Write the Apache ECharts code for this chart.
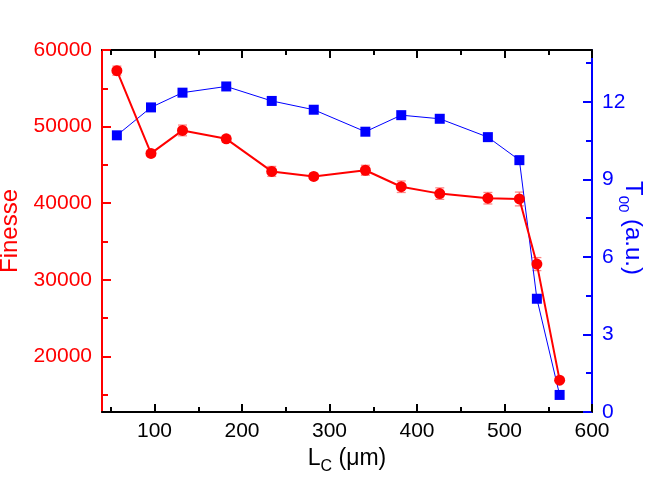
<!DOCTYPE html>
<html>
<head>
<meta charset="utf-8">
<script src="https://cdn.jsdelivr.net/npm/echarts@6/dist/echarts.min.js"></script>
<style>
html,body{margin:0;padding:0;background:#fff;}
#chart{width:650px;height:479px;}
</style>
</head>
<body>
<div id="chart"></div>
<script>
// cavity length (um)
const cavityLength = [57, 96, 132, 182, 234, 282, 341, 382, 426, 481, 517, 537, 563];
// finesse + error
const finesse = [57300, 46500, 49500, 48400, 44150, 43500, 44300, 42150, 41250, 40650, 40550, 32050, 16900];
const finesseErr = [600, 400, 700, 450, 650, 400, 650, 750, 750, 750, 900, 850, 300];
// T00 transmission (a.u.)
const transmission = [10.70, 11.78, 12.35, 12.59, 12.03, 11.69, 10.84, 11.48, 11.34, 10.63, 9.74, 4.38, 0.66];

const xMajor = [100, 200, 300, 400, 500, 600];
const xMinor = [50, 150, 250, 350, 450, 550];
const leftMajor = [20000, 30000, 40000, 50000, 60000];
const leftMinor = [15000, 25000, 35000, 45000, 55000];
const rightMajor = [0, 3, 6, 9, 12];
const rightMinor = [1.5, 4.5, 7.5, 10.5, 13.5];

const FONT = 'Liberation Sans';
const RED = '#ff0000';
const BLUE = '#0000ff';

let redData = [], blueData = [], errData = [];
for (var i = 0; i < cavityLength.length; i++) {
  redData.push([cavityLength[i], finesse[i]]);
  blueData.push([cavityLength[i], transmission[i]]);
  errData.push([cavityLength[i], finesse[i] - finesseErr[i], finesse[i] + finesseErr[i]]);
}

function plain(v) { return String(v); }

function tickAxis(pos, min, max, ticks, len, color, showLine) {
  return {
    type: 'value', position: pos, min: min, max: max,
    splitLine: {show: false},
    axisLine: {show: showLine, lineStyle: {color: color, width: 2}},
    axisTick: {show: true, inside: true, length: len, customValues: ticks,
               lineStyle: {color: color, width: 2}},
    axisLabel: {show: false}
  };
}

let xBottom = tickAxis('bottom', 40, 600, xMajor, 8, '#000', true);
xBottom.axisLabel = {show: true, customValues: xMajor, formatter: plain,
                     color: '#000', fontSize: 21, fontFamily: FONT, margin: 9};
xBottom.name = '{a|L}{b|C}{a| (μm)}';
xBottom.nameLocation = 'middle';
xBottom.nameGap = 33;
xBottom.nameTextStyle = {
  color: '#000', fontFamily: FONT,
  rich: {
    a: {fontSize: 23, fontFamily: FONT, color: '#000', verticalAlign: 'bottom', padding: [0, 0, 5, 0]},
    b: {fontSize: 16, fontFamily: FONT, color: '#000', verticalAlign: 'bottom'}
  }
};

let yLeft = tickAxis('left', 12740, 60000, leftMajor, 9, RED, true);
yLeft.axisLabel = {show: true, customValues: leftMajor, formatter: plain,
                   color: RED, fontSize: 21, fontFamily: FONT, margin: 10};
yLeft.name = 'Finesse';
yLeft.nameLocation = 'middle';
yLeft.nameGap = 70;
yLeft.nameTextStyle = {color: RED, fontSize: 24, fontFamily: FONT};

let yRight = tickAxis('right', 0, 14, rightMajor, 9, BLUE, true);
yRight.axisLabel = {show: true, customValues: rightMajor, formatter: plain,
                    color: BLUE, fontSize: 21, fontFamily: FONT, margin: 10};

let chart = echarts.init(document.getElementById('chart'));
let option = {
  backgroundColor: '#fff',
  animation: false,
  grid: {left: 102, right: 58, top: 50, bottom: 67, outerBoundsMode: 'none'},
  xAxis: [
    xBottom,
    tickAxis('bottom', 40, 600, xMinor, 5, '#000', false),
    tickAxis('top', 40, 600, xMajor, 8, '#000', true),
    tickAxis('top', 40, 600, xMinor, 5, '#000', false)
  ],
  yAxis: [
    yLeft,
    tickAxis('left', 12740, 60000, leftMinor, 6, RED, false),
    yRight,
    tickAxis('right', 0, 14, rightMinor, 6, BLUE, false)
  ],
  graphic: [{
    type: 'text', x: 630, y: 228, rotation: -Math.PI / 2,
    style: {
      text: '{a|T}{b|00}{a| (a.u.)}',
      align: 'center', verticalAlign: 'middle',
      rich: {
        a: {fontSize: 24, fontFamily: FONT, fill: BLUE, verticalAlign: 'bottom', padding: [0, 0, 5, 0]},
        b: {fontSize: 15, fontFamily: FONT, fill: BLUE, verticalAlign: 'bottom'}
      }
    }
  }],
  series: [
    {
      name: 'err', type: 'custom', xAxisIndex: 0, yAxisIndex: 0, z: 2,
      data: errData,
      renderItem: function (params, api) {
        let x = api.value(0);
        let top = api.coord([x, api.value(2)]);
        let bot = api.coord([x, api.value(1)]);
        let st = {stroke: 'rgba(255,70,70,0.65)', lineWidth: 1.3};
        return {
          type: 'group',
          children: [
            {type: 'line', shape: {x1: top[0], y1: top[1], x2: bot[0], y2: bot[1]}, style: st},
            {type: 'line', shape: {x1: top[0] - 4.5, y1: top[1], x2: top[0] + 4.5, y2: top[1]}, style: st},
            {type: 'line', shape: {x1: bot[0] - 4.5, y1: bot[1], x2: bot[0] + 4.5, y2: bot[1]}, style: st}
          ]
        };
      }
    },
    {
      name: 'T00', type: 'line', xAxisIndex: 0, yAxisIndex: 2, z: 3,
      data: blueData,
      symbol: 'rect', symbolSize: 10,
      lineStyle: {color: BLUE, width: 1},
      itemStyle: {color: BLUE}
    },
    {
      name: 'Finesse', type: 'line', xAxisIndex: 0, yAxisIndex: 0, z: 4,
      data: redData,
      symbol: 'circle', symbolSize: 11,
      lineStyle: {color: RED, width: 2},
      itemStyle: {color: RED}
    }
  ]
};
chart.setOption(option);
</script>
</body>
</html>
